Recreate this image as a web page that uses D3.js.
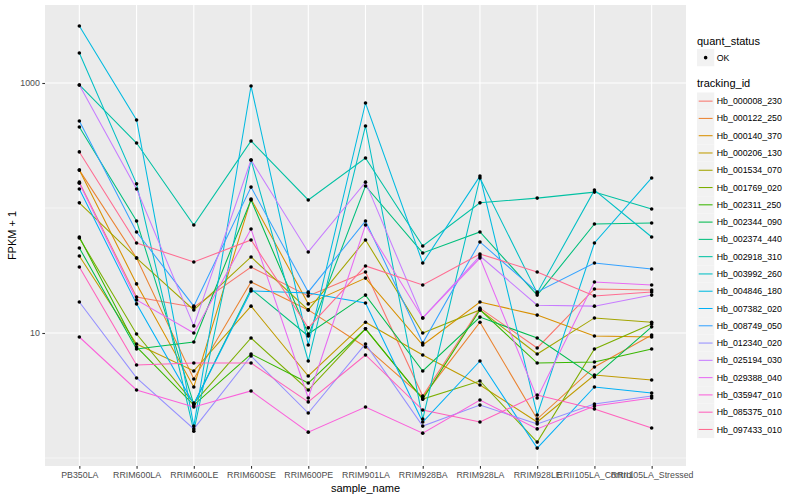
<!doctype html>
<html>
<head>
<meta charset="utf-8">
<script src="https://cdn.jsdelivr.net/npm/d3@7"></script>
<style>
body { margin: 0; background: #fff; }
text { font-family: "Liberation Sans", Arial, sans-serif; }
</style>
</head>
<body>
<svg width="800" height="500"></svg>
<script>
var samples = ["PB350LA", "RRIM600LA", "RRIM600LE", "RRIM600SE", "RRIM600PE", "RRIM901LA",
    "RRIM928BA", "RRIM928LA", "RRIM928LE", "RRII105LA_Control", "RRII105LA_Stressed"]
var tracking_ids = ["Hb_000008_230", "Hb_000122_250", "Hb_000140_370", "Hb_000206_130", "Hb_001534_070",
    "Hb_001769_020", "Hb_002311_250", "Hb_002344_090", "Hb_002374_440", "Hb_002918_310",
    "Hb_003992_260", "Hb_004846_180", "Hb_007382_020", "Hb_008749_050", "Hb_012340_020",
    "Hb_025194_030", "Hb_029388_040", "Hb_035947_010", "Hb_085375_010", "Hb_097433_010"]
var line_colors = ["#F8766D", "#EA8331", "#D89000", "#C09B00", "#A3A500", "#7CAE00", "#39B600", "#00BB4E",
    "#00BF7D", "#00C1A3", "#00BFC4", "#00BAE0", "#00B0F6", "#35A2FF", "#9590FF", "#C77CFF",
    "#E76BF3", "#FA62DB", "#FF62BC", "#FF6C91"]
var y_ticks = [10, 1000]
var y_minor = [1, 100]

// FPKM + 1 per sample, one array per gene
var Hb_000008_230 = [161, 19.4, 16.1, 33.7, 19.8, 30.8, 3.13, 15.8, 7.59, 22.5, 22.1]
var Hb_000122_250 = [201, 39.8, 4.29, 25.6, 15.3, 7.73, 3.08, 12.2, 2.05, 5.35, 9.64]
var Hb_000140_370 = [201, 24.7, 3.70, 118, 17.1, 27.5, 8.02, 17.7, 13.9, 9.46, 9.29]
var Hb_000206_130 = [41.3, 8.17, 4.97, 16.4, 4.53, 12.2, 6.67, 3.84, 1.94, 4.61, 4.21]
var Hb_001534_070 = [110, 39.8, 15.3, 40.6, 15.3, 55.5, 10.0, 15.3, 6.79, 13.2, 12.2]
var Hb_001769_020 = [57.5, 9.82, 2.75, 9.12, 3.50, 10.8, 2.96, 4.13, 1.34, 7.45, 11.8]
var Hb_002311_250 = [58.6, 7.73, 2.65, 6.79, 3.98, 10.8, 2.96, 15.3, 5.75, 5.86, 7.45]
var Hb_002344_090 = [47.9, 7.45, 8.47, 116, 9.82, 20.1, 4.97, 13.4, 9.12, 4.45, 11.2]
var Hb_002374_440 = [445, 78.7, 2.70, 22.5, 9.46, 150, 43.7, 64.3, 20.1, 74.5, 75.9]
var Hb_002918_310 = [964, 331, 73.1, 344, 116, 251, 49.7, 110, 120, 134, 98.2]
var Hb_003992_260 = [1740, 156, 1.64, 242, 5.97, 453, 2.05, 174, 20.9, 139, 58.6]
var Hb_004846_180 = [2860, 506, 1.80, 946, 8.02, 692, 36.3, 180, 2.21, 52.5, 174]
var Hb_007382_020 = [142, 17.1, 2.70, 21.7, 20.9, 17.4, 1.94, 5.97, 1.20, 3.70, 3.31]
var Hb_008749_050 = [497, 64.3, 16.4, 147, 21.3, 78.7, 8.32, 53.5, 21.3, 36.3, 32.5]
var Hb_012340_020 = [17.7, 4.37, 1.71, 6.55, 2.29, 8.17, 1.80, 2.65, 1.87, 2.70, 3.13]
var Hb_025194_030 = [964, 142, 11.4, 242, 44.5, 161, 13.2, 41.3, 16.7, 16.4, 20.1]
var Hb_029388_040 = [158, 18.4, 10.0, 67.9, 3.02, 73.1, 13.2, 39.8, 3.02, 25.6, 24.2]
var Hb_035947_010 = [9.29, 3.50, 2.56, 3.44, 1.61, 2.56, 1.58, 2.91, 1.71, 2.61, 3.02]
var Hb_085375_010 = [33.7, 5.55, 5.75, 5.75, 2.81, 6.67, 2.42, 1.94, 3.19, 2.47, 1.74]
var Hb_097433_010 = [281, 52.5, 37.0, 55.5, 11.0, 34.4, 24.2, 42.9, 30.8, 19.8, 21.3]

var series_values = [Hb_000008_230, Hb_000122_250, Hb_000140_370, Hb_000206_130, Hb_001534_070,
    Hb_001769_020, Hb_002311_250, Hb_002344_090, Hb_002374_440, Hb_002918_310,
    Hb_003992_260, Hb_004846_180, Hb_007382_020, Hb_008749_050, Hb_012340_020,
    Hb_025194_030, Hb_029388_040, Hb_035947_010, Hb_085375_010, Hb_097433_010]

var series = tracking_ids.map(function(id, i) {
    return { id: id, color: line_colors[i],
        points: samples.map(function(s, j) { return [s, series_values[i][j]] }) }
})

var svg = d3.select("svg")
var panel = { left: 45, right: 686, top: 5, bottom: 466 }
var font = "'Liberation Sans', Arial, sans-serif"

var x = d3.scalePoint().domain(samples).range([panel.left, panel.right]).padding(0.6)
var y = d3.scaleLog().domain([Math.pow(10, -0.064), Math.pow(10, 3.624)]).range([panel.bottom, panel.top])

svg.append("rect").attr("width", 800).attr("height", 500).attr("fill", "#ffffff")

// panel + grid
var g = svg.append("g")
g.append("rect")
    .attr("x", panel.left).attr("y", panel.top)
    .attr("width", panel.right - panel.left).attr("height", panel.bottom - panel.top)
    .attr("fill", "#EBEBEB")
g.selectAll(".minor").data(y_minor).enter().append("line")
    .attr("x1", panel.left).attr("x2", panel.right)
    .attr("y1", function(d) { return y(d) }).attr("y2", function(d) { return y(d) })
    .attr("stroke", "#ffffff").attr("stroke-width", 0.55)
g.selectAll(".major").data(y_ticks).enter().append("line")
    .attr("x1", panel.left).attr("x2", panel.right)
    .attr("y1", function(d) { return y(d) }).attr("y2", function(d) { return y(d) })
    .attr("stroke", "#ffffff").attr("stroke-width", 1.1)
g.selectAll(".vgrid").data(samples).enter().append("line")
    .attr("x1", function(d) { return x(d) }).attr("x2", function(d) { return x(d) })
    .attr("y1", panel.top).attr("y2", panel.bottom)
    .attr("stroke", "#ffffff").attr("stroke-width", 1.1)

// lines and points
var line = d3.line().x(function(d) { return x(d[0]) }).y(function(d) { return y(d[1]) })
g.selectAll(".series").data(series).enter().append("path")
    .attr("d", function(d) { return line(d.points) })
    .attr("fill", "none").attr("stroke", function(d) { return d.color })
    .attr("stroke-width", 1.05)
series.forEach(function(s) {
    g.selectAll(null).data(s.points).enter().append("circle")
        .attr("cx", function(d) { return x(d[0]) }).attr("cy", function(d) { return y(d[1]) })
        .attr("r", 1.8).attr("fill", "#000000")
})

// axes
var xAxis = svg.append("g")
    .attr("transform", "translate(0," + panel.bottom + ")")
    .call(d3.axisBottom(x).tickSize(2.7).tickPadding(3))
var yAxis = svg.append("g")
    .attr("transform", "translate(" + panel.left + ",0)")
    .call(d3.axisLeft(y).tickValues(y_ticks).tickFormat(d3.format("d")).tickSize(2.7).tickPadding(2.5))
;[xAxis, yAxis].forEach(function(a) {
    a.select(".domain").remove()
    a.selectAll("line").attr("stroke", "#333333").attr("stroke-width", 1.1)
    a.selectAll("text").attr("fill", "#4D4D4D").attr("font-size", "8.8px").attr("font-family", font)
})

svg.append("text")
    .attr("x", (panel.left + panel.right) / 2).attr("y", 492)
    .attr("text-anchor", "middle").attr("font-size", "11px").attr("fill", "#000")
    .text("sample_name")
svg.append("text")
    .attr("transform", "translate(16," + (panel.top + panel.bottom) / 2 + ") rotate(-90)")
    .attr("text-anchor", "middle").attr("font-size", "11px").attr("fill", "#000")
    .text("FPKM + 1")

// legends
var key = 17.28
var lg = svg.append("g").attr("transform", "translate(697,0)")
lg.append("text").attr("x", 0).attr("y", 44.5).attr("font-size", "11px").text("quant_status")
lg.append("rect").attr("x", 0).attr("y", 49).attr("width", key).attr("height", key).attr("fill", "#F2F2F2")
lg.append("circle").attr("cx", key / 2).attr("cy", 49 + key / 2).attr("r", 1.8).attr("fill", "#000")
lg.append("text").attr("x", key + 2.5).attr("y", 49 + key / 2).attr("dy", "0.35em")
    .attr("font-size", "8.8px").text("OK")

lg.append("text").attr("x", 0).attr("y", 87).attr("font-size", "11px").text("tracking_id")
var rows = lg.selectAll(".row").data(series).enter().append("g")
    .attr("transform", function(d, i) { return "translate(0," + (92.5 + i * key) + ")" })
rows.append("rect").attr("width", key).attr("height", key).attr("fill", "#F2F2F2")
rows.append("line").attr("x1", 1.7).attr("x2", key - 1.7).attr("y1", key / 2).attr("y2", key / 2)
    .attr("stroke", function(d) { return d.color }).attr("stroke-width", 1.05)
rows.append("text").attr("x", key + 2.5).attr("y", key / 2).attr("dy", "0.35em")
    .attr("font-size", "8.8px").text(function(d) { return d.id })
</script>
</body>
</html>
